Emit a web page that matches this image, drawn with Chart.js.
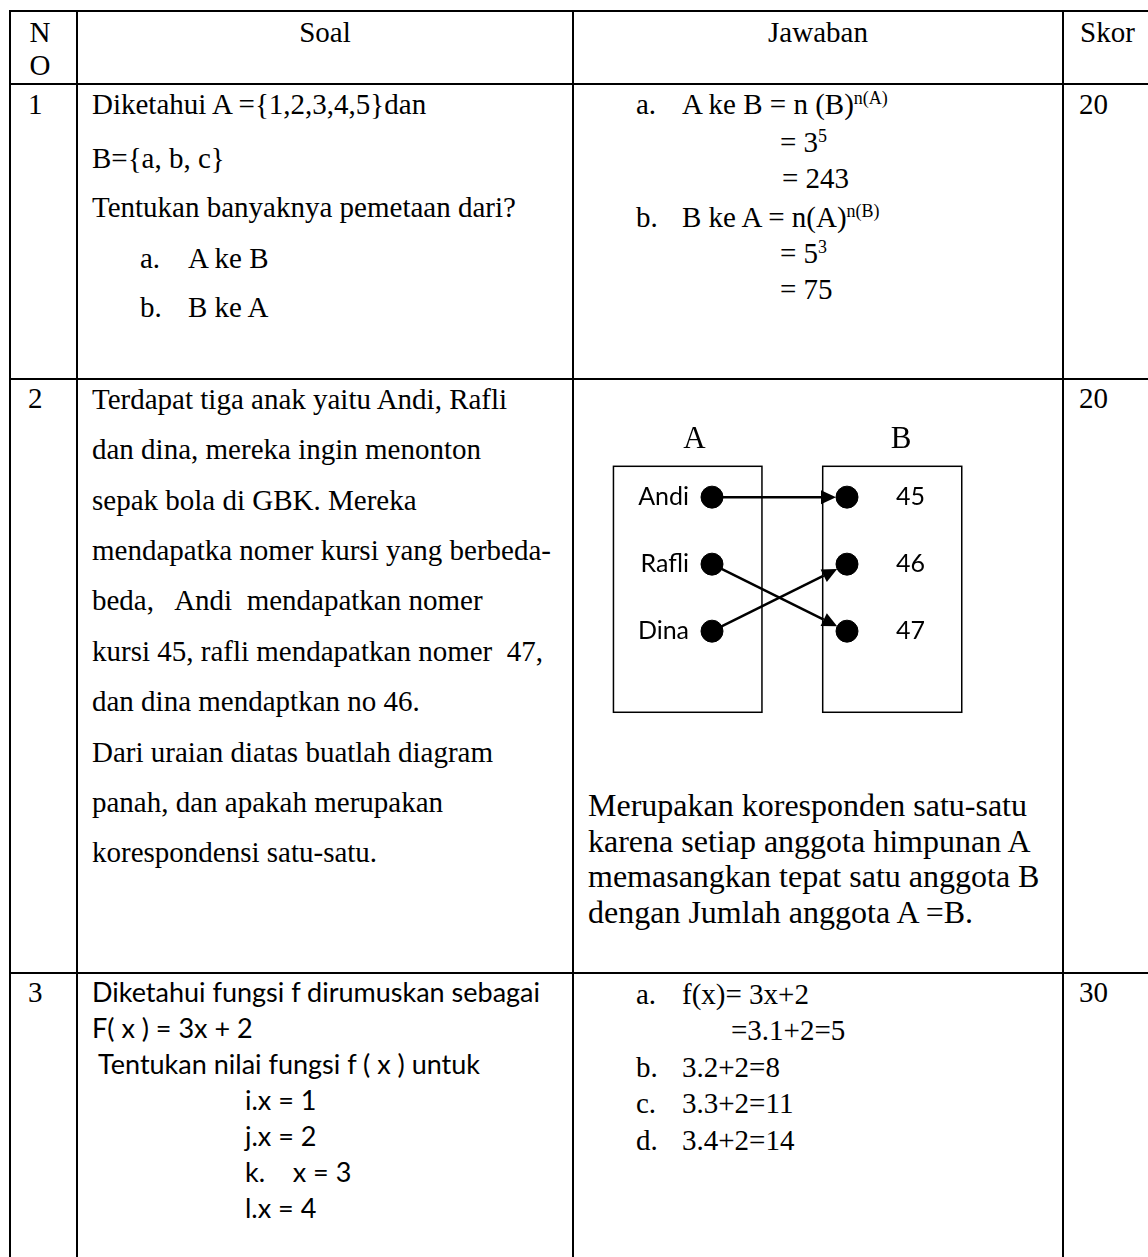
<!DOCTYPE html>
<html>
<head>
<meta charset="utf-8">
<script src="https://cdn.jsdelivr.net/npm/chart.js@4.4.0/dist/chart.umd.min.js"></script>
<style>
  body { margin: 0; background: #fff; width: 1148px; height: 1257px; overflow: hidden; position: relative; }
  .t { position: absolute; white-space: pre; color: #000; line-height: 1; }
  .serif { font-family: "Liberation Serif", "Times New Roman", serif; }
  .sans { font-family: Lato, "Liberation Sans", sans-serif; }
  .garis { position: absolute; background: #000; }
  .up { position: relative; top: -0.55em; font-size: 0.62em; }
</style>
</head>
<body>
<canvas id="diagram" width="378" height="315" style="position:absolute;left:604px;top:410px"></canvas>
<script>
// data diagram panah
const himpunanA = ['Andi', 'Rafli', 'Dina']
const himpunanB = ['45', '46', '47']
const pasangan = [['Andi', '45'], ['Rafli', '47'], ['Dina', '46']]
const skor = ['20', '20', '30']

// teks tabel
const soal1 = ['Diketahui A ={1,2,3,4,5}dan', 'B={a, b, c}', 'Tentukan banyaknya pemetaan dari?']
const soal2 = [
    'Terdapat tiga anak yaitu Andi, Rafli',
    'dan dina, mereka ingin menonton',
    'sepak bola di GBK. Mereka',
    'mendapatka nomer kursi yang berbeda-',
    'beda,   Andi  mendapatkan nomer',
    'kursi 45, rafli mendapatkan nomer  47,',
    'dan dina mendaptkan no 46.',
    'Dari uraian diatas buatlah diagram',
    'panah, dan apakah merupakan',
    'korespondensi satu-satu.'
]
const jawab2 = [
    'Merupakan koresponden satu-satu',
    'karena setiap anggota himpunan A',
    'memasangkan tepat satu anggota B',
    'dengan Jumlah anggota A =B.'
]
const soal3 = ['Diketahui fungsi f dirumuskan sebagai', 'F( x ) = 3x + 2', ' Tentukan nilai fungsi f ( x ) untuk']
const soal3Sub = ['i.x = 1', 'j.x = 2', 'k.    x = 3', 'l.x = 4']
const jawab3 = [['a.', 'f(x)= 3x+2'], ['', '=3.1+2=5'], ['b.', '3.2+2=8'], ['c.', '3.3+2=11'], ['d.', '3.4+2=14']]

const BASE = { serif: 0.8375, sans: 0.887 }
function tulis(teks, x, baseline, size, jenis = 'serif', tengah = false) {
    const el = document.createElement('div')
    el.className = 't ' + jenis
    el.style.fontSize = size + 'px'
    el.style.top = (baseline - BASE[jenis] * size) + 'px'
    el.style.left = x + 'px'
    if (tengah) el.style.transform = 'translateX(-50%)'
    el.innerHTML = teks
    document.body.appendChild(el)
}
function garis(x, y, w, h) {
    const el = document.createElement('div')
    el.className = 'garis'
    el.style.left = x + 'px'; el.style.top = y + 'px'
    el.style.width = w + 'px'; el.style.height = h + 'px'
    document.body.appendChild(el)
}

// garis tabel
garis(9, 10, 1150, 2)
garis(9, 83, 1150, 2)
garis(9, 378, 1150, 2)
garis(9, 972, 1150, 2)
;[9, 76, 572, 1062].forEach(x => garis(x, 10, 2, 1257))

// header
tulis('N', 40, 42, 29, 'serif', true)
tulis('O', 40, 75, 29, 'serif', true)
tulis('Soal', 325, 42, 29, 'serif', true)
tulis('Jawaban', 818, 42, 29, 'serif', true)
tulis('Skor', 1080, 42, 29)

// nomor dan skor
tulis('1', 28, 114, 29)
tulis('2', 28, 408, 29)
tulis('3', 28, 1002, 29)
tulis(skor[0], 1079, 114, 29)
tulis(skor[1], 1079, 408, 29)
tulis(skor[2], 1079, 1002, 29)

// baris 1
const b1 = [114, 168, 217]
soal1.forEach((s, i) => tulis(s, 92, b1[i], 29))
tulis('a.', 140, 268, 29); tulis('A ke B', 188, 268, 29)
tulis('b.', 140, 317, 29); tulis('B ke A', 188, 317, 29)

tulis('a.', 636, 114, 29); tulis('A ke B = n (B)<span class="up">n(A)</span>', 682, 114, 29)
tulis('= 3<span class="up">5</span>', 780, 152, 29)
tulis('= 243', 782, 188, 29)
tulis('b.', 636, 227, 29); tulis('B ke A = n(A)<span class="up">n(B)</span>', 682, 227, 29)
tulis('= 5<span class="up">3</span>', 780, 263, 29)
tulis('= 75', 780, 299, 29)

// baris 2
soal2.forEach((s, i) => tulis(s, 92, 409 + 50.4 * i, 29))
jawab2.forEach((s, i) => tulis(s, 588, 816 + 35.5 * i, 32))

// baris 3
soal3.forEach((s, i) => tulis(s, 92, 1002 + 36 * i, 27, 'sans'))
soal3Sub.forEach((s, i) => tulis(s, 245, 1110 + 36 * i, 27, 'sans'))
jawab3.forEach((r, i) => {
    if (r[0]) tulis(r[0], 636, 1004 + 36.5 * i, 29)
    tulis(r[1], r[0] ? 682 : 731, 1004 + 36.5 * i, 29)
})

// diagram panah (Chart.js)
const kotakY = [0.54, 4.21]
const kotakA = [0.27, 1.37]
const kotakB = [1.82, 2.85]
const R = 11

const panahPlugin = {
    id: 'panah',
    beforeDatasetsDraw(chart) {
        const { ctx, scales: { x, y } } = chart
        ctx.save()
        ctx.strokeStyle = '#000'
        ctx.lineWidth = 1.5
        ;[kotakA, kotakB].forEach(k => {
            const x0 = x.getPixelForValue(k[0]), x1 = x.getPixelForValue(k[1])
            const y0 = y.getPixelForValue(kotakY[0]), y1 = y.getPixelForValue(kotakY[1])
            ctx.strokeRect(x0, y0, x1 - x0, y1 - y0)
        })
        ctx.fillStyle = '#000'
        ctx.font = '31px "Liberation Serif", serif'
        ctx.textAlign = 'center'
        ctx.textBaseline = 'alphabetic'
        ctx.fillText('A', x.getPixelForValue(0.87), y.getPixelForValue(0.27))
        ctx.fillText('B', x.getPixelForValue(2.4), y.getPixelForValue(0.27))
        ctx.font = '25px Lato, sans-serif'
        ctx.textBaseline = 'middle'
        ctx.textAlign = 'right'
        himpunanA.forEach((n, i) => ctx.fillText(n, x.getPixelForValue(0.83), y.getPixelForValue(i + 1)))
        ctx.textAlign = 'center'
        himpunanB.forEach((n, i) => ctx.fillText(n, x.getPixelForValue(2.47), y.getPixelForValue(i + 1)))
        ctx.restore()
    },
    afterDatasetsDraw(chart) {
        const { ctx, scales: { x, y } } = chart
        ctx.save()
        ctx.strokeStyle = '#000'
        ctx.fillStyle = '#000'
        ctx.lineWidth = 2.5
        pasangan.forEach(([a, b]) => {
            const x0 = x.getPixelForValue(1), y0 = y.getPixelForValue(himpunanA.indexOf(a) + 1)
            const x1 = x.getPixelForValue(2), y1 = y.getPixelForValue(himpunanB.indexOf(b) + 1)
            const ang = Math.atan2(y1 - y0, x1 - x0)
            const tx = x1 - R * Math.cos(ang), ty = y1 - R * Math.sin(ang)
            const L = 15, W = 7
            const bx = tx - L * Math.cos(ang), by = ty - L * Math.sin(ang)
            ctx.beginPath()
            ctx.moveTo(x0, y0)
            ctx.lineTo(bx, by)
            ctx.stroke()
            ctx.beginPath()
            ctx.moveTo(tx, ty)
            ctx.lineTo(bx + W * Math.sin(ang), by - W * Math.cos(ang))
            ctx.lineTo(bx - W * Math.sin(ang), by + W * Math.cos(ang))
            ctx.closePath()
            ctx.fill()
        })
        ctx.restore()
    }
}

new Chart(document.getElementById('diagram'), {
    type: 'scatter',
    data: {
        datasets: [
            {
                label: 'A',
                data: himpunanA.map((n, i) => ({ x: 1, y: i + 1 })),
                pointRadius: R,
                backgroundColor: '#000',
                borderColor: '#000'
            }, {
                label: 'B',
                data: himpunanB.map((n, i) => ({ x: 2, y: i + 1 })),
                pointRadius: R,
                backgroundColor: '#000',
                borderColor: '#000'
            }
        ]
    },
    options: {
        responsive: false,
        animation: false,
        devicePixelRatio: 1,
        events: [],
        layout: { padding: 0, autoPadding: false },
        plugins: { legend: { display: false }, tooltip: { enabled: false } },
        scales: {
            x: { type: 'linear', min: 0.2, max: 3.0, display: false },
            y: { type: 'linear', min: -0.3, max: 4.4, reverse: true, display: false }
        }
    },
    plugins: [panahPlugin]
})
</script>
</body>
</html>
